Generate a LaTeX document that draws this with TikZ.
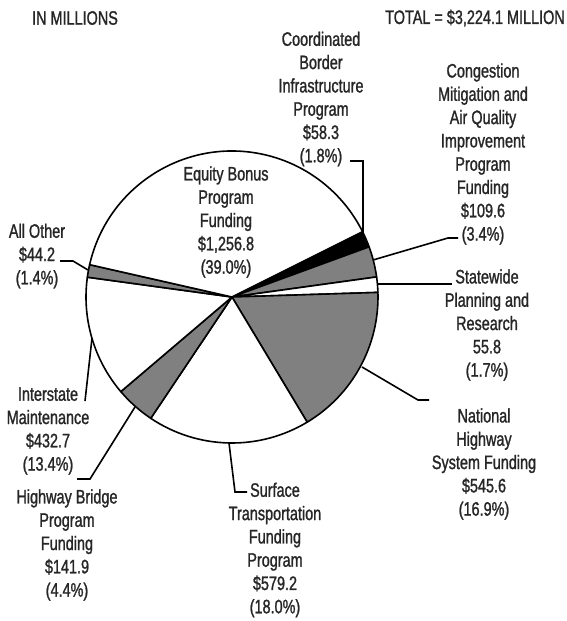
\documentclass[tikz,border=0pt]{standalone}
\usepackage{fontspec}
\setmainfont{Liberation Sans}[FakeStretch=0.74, FakeBold=1.2]

\tikzset{
  slice/.style={draw=black, line width=1.6pt, line join=round},
  leader/.style={draw=black, line width=1.6pt},
  lbl/.style={align=center, inner sep=0pt, text=black!85,
    font=\fontsize{19.5}{23.3}\selectfont},
}

\begin{document}
\begin{tikzpicture}[x=1pt, y=-1pt]

\useasboundingbox (0,0) rectangle (567,621);

% Pie
\coordinate (c) at (232,297);
\begin{scope}[shift={(c)}, x=1pt, y=1pt]
  \filldraw[slice, fill=black]   (0,0) -- (26.6:146pt)  arc (26.6:20.1:146pt)   -- cycle; % border
  \filldraw[slice, fill=black!50] (0,0) -- (20.1:146pt)  arc (20.1:7.9:146pt)    -- cycle; % cmaq
  \filldraw[slice, fill=white]   (0,0) -- (7.9:146pt)   arc (7.9:1.8:146pt)     -- cycle; % statewide
  \filldraw[slice, fill=black!50] (0,0) -- (1.8:146pt)   arc (1.8:-59.0:146pt)   -- cycle; % nhs
  \filldraw[slice, fill=white]   (0,0) -- (-59.0:146pt) arc (-59.0:-123.8:146pt) -- cycle; % stp
  \filldraw[slice, fill=black!50] (0,0) -- (-123.8:146pt) arc (-123.8:-139.6:146pt) -- cycle; % bridge
  \filldraw[slice, fill=white]   (0,0) -- (-139.6:146pt) arc (-139.6:-187.8:146pt) -- cycle; % interstate
  \filldraw[slice, fill=black!50] (0,0) -- (-187.8:146pt) arc (-187.8:-192.8:146pt) -- cycle; % all other
  \filldraw[slice, fill=white]   (0,0) -- (-192.8:146pt) arc (-192.8:-333.4:146pt) -- cycle; % equity
\end{scope}

% Labels
\node[lbl] (units) at (75,18) {IN MILLIONS};
\node[lbl] (total) at (475,18) {TOTAL = \$3,224.1 MILLION};
\node[lbl] (border) at (321,99) {Coordinated\\Border\\Infrastructure\\Program\\\$58.3\\(1.8\%)};
\node[lbl] (cmaq) at (483,154) {Congestion\\Mitigation and\\Air Quality\\Improvement\\Program\\Funding\\\$109.6\\(3.4\%)};
\node[lbl] (equity) at (226,222) {Equity Bonus\\Program\\Funding\\\$1,256.8\\(39.0\%)};
\node[lbl] (other) at (37,256) {All Other\\\$44.2\\(1.4\%)};
\node[lbl] (statewide) at (487,325) {Statewide\\Planning and\\Research\\55.8\\(1.7\%)};
\node[lbl] (nhs) at (484,464) {National\\Highway\\System Funding\\\$545.6\\(16.9\%)};
\node[lbl] (stp) at (275,550) {Surface\\Transportation\\Funding\\Program\\\$579.2\\(18.0\%)};
\node[lbl] (bridge) at (67,545) {Highway Bridge\\Program\\Funding\\\$141.9\\(4.4\%)};
\node[lbl] (interstate) at (48,431) {Interstate\\Maintenance\\\$432.7\\(13.4\%)};

% Leader ends
\coordinate (borderP) at (363,237);  \coordinate (borderE) at (350,161);
\coordinate (cmaqP) at (373,260);    \coordinate (cmaqK) at (448,238);  \coordinate (cmaqE) at (458,238);
\coordinate (statewideP) at (377,284); \coordinate (statewideE) at (452,284);
\coordinate (nhsP) at (362,367);     \coordinate (nhsK) at (418,400);   \coordinate (nhsE) at (429,400);
\coordinate (stpP) at (229,443);     \coordinate (stpK) at (235,492);   \coordinate (stpE) at (247,492);
\coordinate (bridgeP) at (135,407);  \coordinate (bridgeK) at (90,479); \coordinate (bridgeE) at (77,479);
\coordinate (interstateP) at (92,338); \coordinate (interstateE) at (85,401);
\coordinate (otherP) at (88,270);    \coordinate (otherK) at (73,261);  \coordinate (otherE) at (60,261);

% Leaders
\draw[leader] (borderE) -| (borderP);
\draw[leader] (cmaqP) -- (cmaqK) -- (cmaqE);
\draw[leader] (statewideP) -- (statewideE);
\draw[leader] (nhsP) -- (nhsK) -- (nhsE);
\draw[leader] (stpP) -- (stpK) -- (stpE);
\draw[leader] (bridgeP) -- (bridgeK) -- (bridgeE);
\draw[leader] (interstateP) -- (interstateE);
\draw[leader] (otherP) -- (otherK) -- (otherE);
\end{tikzpicture}
\end{document}
